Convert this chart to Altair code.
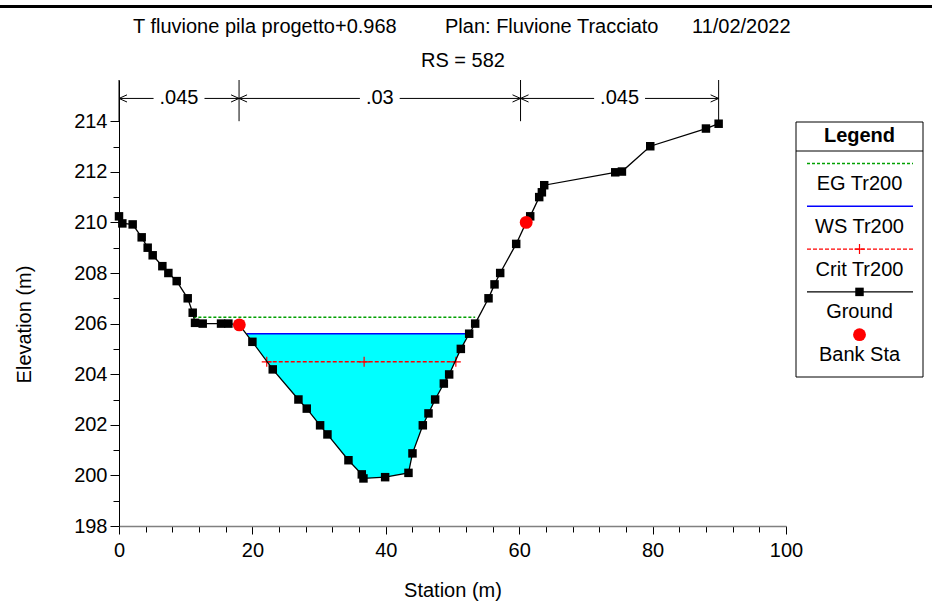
import altair as alt
import pandas as pd

# ---------------- data ----------------
station = [0.0, 0.5, 2.05, 3.4, 4.3, 5.05, 6.5, 7.4, 8.65, 10.3, 11.05, 11.4, 12.55, 15.3, 16.4, 18.04, 20.0,
           23.05, 26.9, 28.15, 30.15, 31.25, 34.4, 36.4, 36.65, 39.9, 43.4, 44.0, 45.55, 46.4, 47.4, 48.7, 49.5,
           51.25, 52.5, 53.4, 55.4, 56.3, 57.15, 59.55, 61.05, 61.65, 63.0, 63.4, 63.75, 74.4, 75.4, 79.65, 88.0, 89.9]
elevation = [210.24, 209.96, 209.92, 209.41, 209.0, 208.7, 208.27, 208.0, 207.68, 207.0, 206.43, 206.03, 206.0, 206.0, 206.0, 205.95, 205.28,
             204.19, 203.0, 202.64, 201.98, 201.62, 200.6, 200.04, 199.88, 199.93, 200.1, 200.87, 201.98, 202.45, 203.0, 203.63, 203.99,
             205.0, 205.6, 206.0, 207.0, 207.55, 208.0, 209.15, 210.0, 210.24, 211.0, 211.19, 211.47, 211.98, 212.01, 213.01, 213.71, 213.9]

bank_station = [18.04, 61.05]
bank_elevation = [205.95, 210.0]

eg_elevation = 206.25
eg_extent = [11.15, 53.4]
ws_elevation = 205.6
ws_extent = [19.15, 52.55]
crit_elevation = 204.49
crit_marks = [22.15, 36.75, 50.5]

n_breaks = [0.0, 18.0, 60.2, 89.9]
n_values = [".045", ".03", ".045"]

title_parts = ["T fluvione pila progetto+0.968", "Plan: Fluvione Tracciato", "11/02/2022"]
subtitle = "RS = 582"
legend_title = "Legend"
legend_labels = ["EG Tr200", "WS Tr200", "Crit Tr200", "Ground", "Bank Sta"]

x_ticks = list(range(0, 101, 4))
y_ticks = list(range(198, 215, 1))

# ---------------- layout ----------------
FONT = "Liberation Sans"
FS = 20
W, H = 667, 446
PX_PER_UNIT_Y = 25.3
Y_TOP = 198 + H / PX_PER_UNIT_Y
N_LINE_Y = 214.9
N_LINE_BOTTOM = 214.0
EG_COLOR = "#00a000"

xs = alt.Scale(domain=[0, 100], nice=False, zero=False)
ys = alt.Scale(domain=[198, Y_TOP], nice=False, zero=False)

x_axis = alt.Axis(
    values=x_ticks, title="Station (m)",
    labelExpr="datum.value % 20 === 0 ? datum.label : ''",
    tickSize={"condition": {"test": "datum.value % 20 === 0", "value": 8}, "value": 6},
    labelPadding=6, domainColor="#808080", domainWidth=1.5, tickColor="black",
    titleX=W / 2, titleY=64, titleBaseline="middle", titleAlign="center",
    labelFlush=False, labelOverlap=False,
)
y_axis = alt.Axis(
    values=y_ticks, title="Elevation (m)",
    labelExpr="datum.value % 2 === 0 ? datum.label : ''",
    tickSize={"condition": {"test": "datum.value % 2 === 0", "value": 9}, "value": 6},
    labelPadding=3, domainColor="black", tickColor="black",
    titleX=-95, titleY=244, titleBaseline="middle", titleAlign="center", titleAngle=-90,
    labelFlush=False, labelOverlap=False,
)

X = lambda f="x": alt.X(f"{f}:Q", scale=xs, axis=x_axis)
Y = lambda f="y": alt.Y(f"{f}:Q", scale=ys, axis=y_axis)

ground_df = pd.DataFrame({"x": station, "y": elevation})
bank_df = pd.DataFrame({"x": bank_station, "y": bank_elevation})

water_rows = [{"x": ws_extent[0], "y": ws_elevation, "ws": ws_elevation}]
water_rows += [{"x": s, "y": e, "ws": ws_elevation} for s, e in zip(station, elevation)
               if ws_extent[0] < s < ws_extent[1]]
water_rows += [{"x": ws_extent[1], "y": ws_elevation, "ws": ws_elevation}]
water_df = pd.DataFrame(water_rows)

water = alt.Chart(water_df).mark_area(fill="#00ffff", opacity=1, stroke=None).encode(
    x=X(), y=Y(), y2=alt.Y2("ws:Q"))

eg = alt.Chart(pd.DataFrame({"x": [eg_extent[0]], "x2": [eg_extent[1]], "y": [eg_elevation]})).mark_rule(
    color=EG_COLOR, strokeDash=[3, 2], strokeWidth=1.6).encode(x=X(), x2="x2:Q", y=Y())
ws = alt.Chart(pd.DataFrame({"x": [ws_extent[0]], "x2": [ws_extent[1]], "y": [ws_elevation]})).mark_rule(
    color="#0000ff", strokeWidth=1.5).encode(x=X(), x2="x2:Q", y=Y())
crit = alt.Chart(pd.DataFrame({"x": [crit_marks[0]], "x2": [crit_marks[-1]], "y": [crit_elevation]})).mark_rule(
    color="#ff0000", strokeDash=[4, 2], strokeWidth=1.4).encode(x=X(), x2="x2:Q", y=Y())
PLUS = "M-1,0L1,0M0,-1L0,1"
crit_pts = alt.Chart(pd.DataFrame({"x": crit_marks, "y": [crit_elevation] * len(crit_marks)})).mark_point(
    shape=PLUS, size=100, filled=False, stroke="#ff0000", strokeWidth=1.2, opacity=1).encode(x=X(), y=Y())

ground_line = alt.Chart(ground_df).mark_line(color="black", strokeWidth=1.3).encode(
    x=X(), y=Y(), order=alt.Order("x:Q"))
ground_pts = alt.Chart(ground_df).mark_square(size=72, color="black", opacity=1).encode(x=X(), y=Y())
bank_pts = alt.Chart(bank_df).mark_circle(size=165, color="#ff0000", opacity=1).encode(x=X(), y=Y())

# Manning n annotations
vert_df = pd.DataFrame({"x": n_breaks, "y": [N_LINE_BOTTOM] * 3 + [elevation[-1]], "y2": [Y_TOP] * 4})
n_vert = alt.Chart(vert_df).mark_rule(color="black", strokeWidth=1).encode(x=X(), y=Y(), y2="y2:Q")

seg_rows, arrow_l, arrow_r, n_text = [], [], [], []
for i, lab in enumerate(n_values):
    a, b = n_breaks[i], n_breaks[i + 1]
    mid = (a + b) / 2
    text_px = FS * (0.278 + 0.556 * (len(lab) - 1))
    g = (text_px / 2 + 6) / (W / 100)
    seg_rows.append({"x": a, "x2": mid - g, "y": N_LINE_Y})
    seg_rows.append({"x": mid + g, "x2": b, "y": N_LINE_Y})
    arrow_l.append({"x": a, "y": N_LINE_Y})
    arrow_r.append({"x": b, "y": N_LINE_Y})
    n_text.append({"x": mid, "y": N_LINE_Y, "t": lab})

n_seg = alt.Chart(pd.DataFrame(seg_rows)).mark_rule(color="black", strokeWidth=1).encode(
    x=X(), x2="x2:Q", y=Y())
n_al = alt.Chart(pd.DataFrame(arrow_l)).mark_point(
    shape="M2,-0.9L0,0L2,0.9", size=64, filled=False, stroke="black", strokeWidth=1, opacity=1).encode(x=X(), y=Y())
n_ar = alt.Chart(pd.DataFrame(arrow_r)).mark_point(
    shape="M-2,-0.9L0,0L-2,0.9", size=64, filled=False, stroke="black", strokeWidth=1, opacity=1).encode(x=X(), y=Y())
n_txt = alt.Chart(pd.DataFrame(n_text)).mark_text(
    font=FONT, fontSize=FS, color="black", align="center", baseline="middle").encode(x=X(), y=Y(), text="t:N")

# ---------------- titles (pixel positions relative to plot area) ----------------
top_rule = alt.Chart(pd.DataFrame({"k": [0]})).mark_rule(color="black", strokeWidth=3).encode(
    x=alt.value(-119), x2=alt.value(813), y=alt.value(-73.5))
title_df = pd.DataFrame({"t": title_parts, "px": [14, 326, 573], "py": [-53, -53, -53]})
title_txt = alt.Chart(title_df).mark_text(
    font=FONT, fontSize=FS, color="black", align="left", baseline="middle").encode(
    x=alt.X("px:Q", scale=None), y=alt.Y("py:Q", scale=None), text="t:N")
sub_txt = alt.Chart(pd.DataFrame({"t": [subtitle], "px": [344], "py": [-19]})).mark_text(
    font=FONT, fontSize=FS, color="black", align="center", baseline="middle").encode(
    x=alt.X("px:Q", scale=None), y=alt.Y("py:Q", scale=None), text="t:N")

# ---------------- legend ----------------
LX0, LX1 = 677, 804
LCX = (LX0 + LX1) / 2
leg_box = alt.Chart(pd.DataFrame({"k": [0]})).mark_rect(fill="white", stroke="black", strokeWidth=1).encode(
    x=alt.value(LX0), x2=alt.value(LX1), y=alt.value(42), y2=alt.value(297))
leg_sep = alt.Chart(pd.DataFrame({"k": [0]})).mark_rule(color="black", strokeWidth=1).encode(
    x=alt.value(LX0), x2=alt.value(LX1), y=alt.value(71))
leg_head = alt.Chart(pd.DataFrame({"t": [legend_title]})).mark_text(
    font=FONT, fontSize=FS, fontWeight="bold", color="black", align="center", baseline="middle").encode(
    x=alt.value(LCX), y=alt.value(56), text="t:N")

SYM0, STEP = 83.5, 42.8
sym_y = [SYM0 + i * STEP for i in range(len(legend_labels))]
leg_txt = alt.Chart(pd.DataFrame({"t": legend_labels, "py": [v + 20.5 for v in sym_y]})).mark_text(
    font=FONT, fontSize=FS, color="black", align="center", baseline="middle").encode(
    x=alt.value(LCX), y=alt.Y("py:Q", scale=None), text="t:N")

def leg_line(iy, **kw):
    return alt.Chart(pd.DataFrame({"py": [sym_y[iy]]})).mark_rule(**kw).encode(
        x=alt.value(LX0 + 11), x2=alt.value(LX1 - 10), y=alt.Y("py:Q", scale=None))

leg_eg = leg_line(0, color=EG_COLOR, strokeDash=[3, 2], strokeWidth=1.6)
leg_ws = leg_line(1, color="#0000ff", strokeWidth=1.5)
leg_crit = leg_line(2, color="#ff0000", strokeDash=[4, 2], strokeWidth=1.4)
leg_ground = leg_line(3, color="black", strokeWidth=1.3)
leg_plus = alt.Chart(pd.DataFrame({"py": [sym_y[2]]})).mark_point(
    shape=PLUS, size=100, filled=False, stroke="#ff0000", strokeWidth=1.2, opacity=1).encode(
    x=alt.value(LCX), y=alt.Y("py:Q", scale=None))
leg_sq = alt.Chart(pd.DataFrame({"py": [sym_y[3]]})).mark_square(size=72, color="black", opacity=1).encode(
    x=alt.value(LCX), y=alt.Y("py:Q", scale=None))
leg_dot = alt.Chart(pd.DataFrame({"py": [sym_y[4]]})).mark_circle(size=165, color="#ff0000", opacity=1).encode(
    x=alt.value(LCX), y=alt.Y("py:Q", scale=None))

chart = alt.layer(
    water, eg, ws, crit, crit_pts, ground_line, ground_pts, bank_pts,
    n_vert, n_seg, n_al, n_ar, n_txt,
    top_rule, title_txt, sub_txt,
    leg_box, leg_sep, leg_head, leg_txt, leg_eg, leg_ws, leg_crit, leg_plus, leg_ground, leg_sq, leg_dot,
).properties(
    width=W, height=H,
    autosize=alt.AutoSizeParams(type="none"),
    padding={"left": 119, "top": 80, "right": 932 - 119 - W, "bottom": 605 - 80 - H},
    background="white",
).configure_view(stroke=None).configure_axis(
    labelFont=FONT, labelFontSize=FS, labelColor="black",
    titleFont=FONT, titleFontSize=FS, titleFontWeight="normal", titleColor="black",
    grid=False,
).configure_text(font=FONT)

chart.save("out.html", embed_options={"renderer": "svg", "actions": False})
